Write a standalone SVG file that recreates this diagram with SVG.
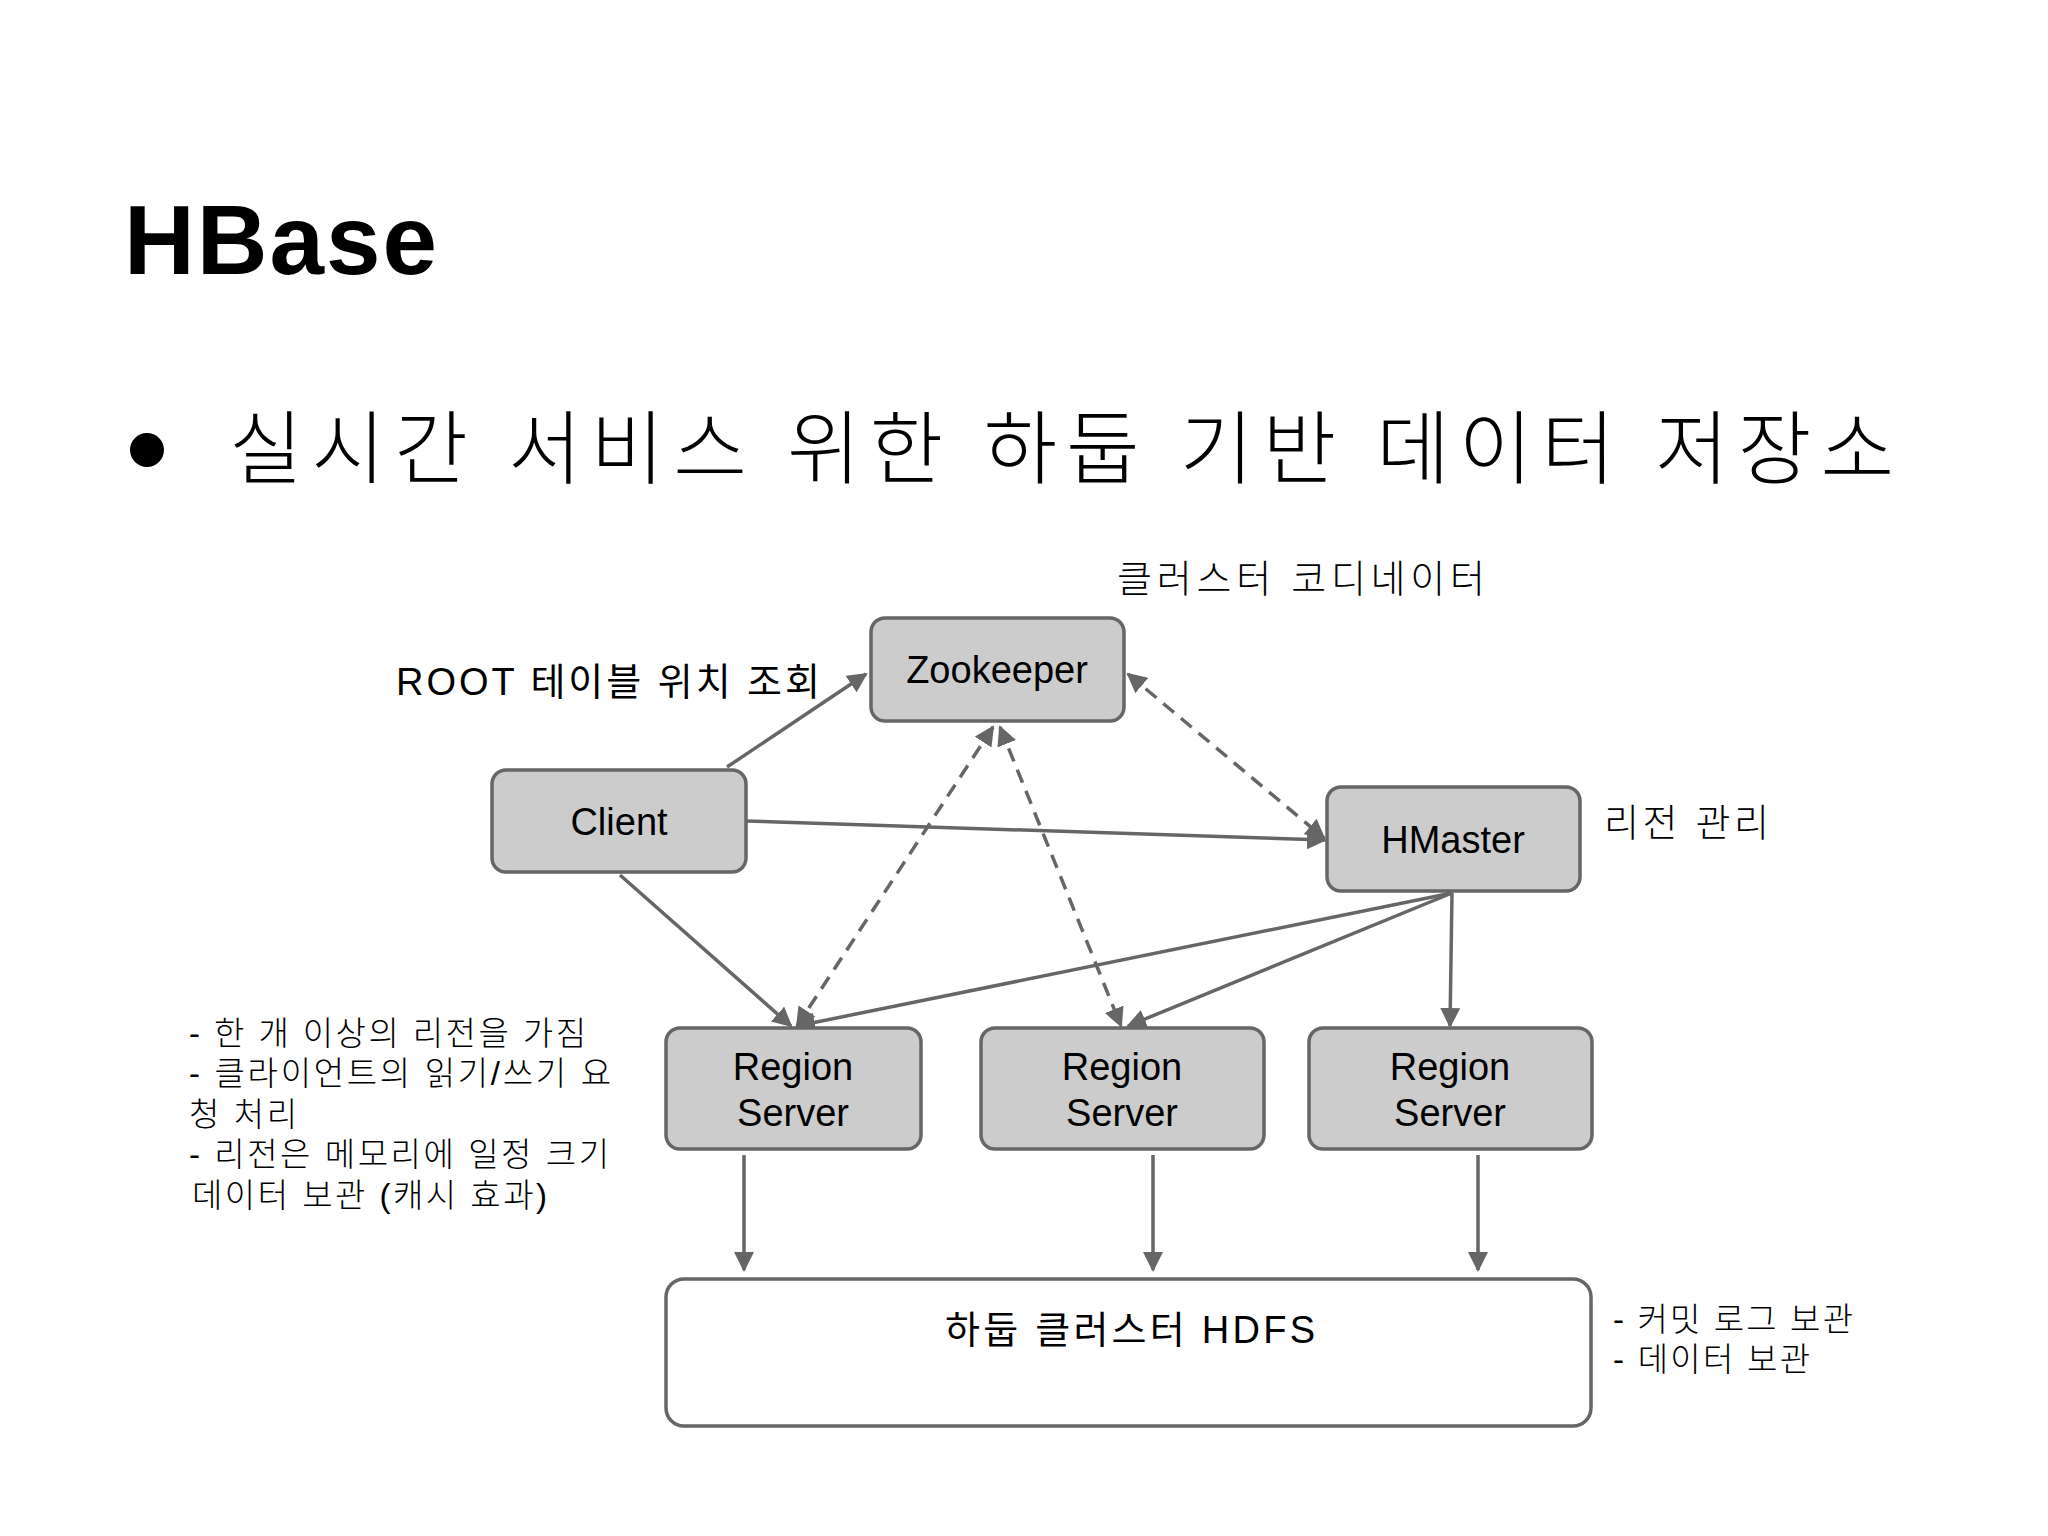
<svg xmlns="http://www.w3.org/2000/svg" width="2048" height="1536" viewBox="0 0 2048 1536">
<defs>
<marker id="a" viewBox="0 0 10 10" refX="9" refY="5" markerWidth="20" markerHeight="20" markerUnits="userSpaceOnUse" orient="auto-start-reverse"><path d="M0,0L10,5L0,10z" fill="#666"/></marker>
</defs>
<style>
.t{font-family:"Liberation Sans","Noto Sans CJK KR",Arial,sans-serif;fill:#000}
.k{font-weight:300}
.box{fill:#ccc;stroke:#666;stroke-width:3.5}
.c line{stroke:#666;stroke-width:3.5;fill:none}
.d{stroke-dasharray:14,9}
</style>
<rect width="2048" height="1536" fill="#fff"/>
<text class="t" x="124" y="274" font-size="98" font-weight="bold" textLength="313">HBase</text>
<circle cx="147" cy="450" r="17" fill="#000"/>
<text class="t k" x="229" y="477" font-size="80" textLength="1665">실시간 서비스 위한 하둡 기반 데이터 저장소</text>
<g class="c">
<line x1="727" y1="767" x2="866" y2="674" marker-end="url(#a)"/>
<line x1="746" y1="821" x2="1325" y2="840" marker-end="url(#a)"/>
<line x1="620" y1="875" x2="791" y2="1026" marker-end="url(#a)"/>
<line class="d" x1="1128" y1="674" x2="1324" y2="838" marker-start="url(#a)" marker-end="url(#a)"/>
<line class="d" x1="993" y1="727" x2="797" y2="1026" marker-start="url(#a)" marker-end="url(#a)"/>
<line class="d" x1="1000" y1="727" x2="1121" y2="1026" marker-start="url(#a)" marker-end="url(#a)"/>
<line x1="1452" y1="893" x2="797" y2="1026" marker-end="url(#a)"/>
<line x1="1452" y1="893" x2="1128" y2="1026" marker-end="url(#a)"/>
<line x1="1452" y1="893" x2="1450" y2="1026" marker-end="url(#a)"/>
<line x1="744" y1="1155" x2="744" y2="1270" marker-end="url(#a)"/>
<line x1="1153" y1="1155" x2="1153" y2="1270" marker-end="url(#a)"/>
<line x1="1478" y1="1155" x2="1478" y2="1270" marker-end="url(#a)"/>
</g>
<g id="zookeeper"><rect class="box" x="871" y="618" width="253" height="103" rx="14"/><text class="t" x="997" y="683" font-size="38" text-anchor="middle">Zookeeper</text></g>
<g id="client"><rect class="box" x="492" y="770" width="254" height="102" rx="14"/><text class="t" x="619" y="835" font-size="38" text-anchor="middle">Client</text></g>
<g id="hmaster"><rect class="box" x="1327" y="787" width="253" height="104" rx="14"/><text class="t" x="1453" y="853" font-size="38" text-anchor="middle">HMaster</text></g>
<g id="rs1"><rect class="box" x="666" y="1028" width="255" height="121" rx="14"/><text class="t" x="793" y="1080" font-size="38" text-anchor="middle">Region</text><text class="t" x="793" y="1126" font-size="38" text-anchor="middle">Server</text></g>
<g id="rs2"><rect class="box" x="981" y="1028" width="283" height="121" rx="14"/><text class="t" x="1122" y="1080" font-size="38" text-anchor="middle">Region</text><text class="t" x="1122" y="1126" font-size="38" text-anchor="middle">Server</text></g>
<g id="rs3"><rect class="box" x="1309" y="1028" width="283" height="121" rx="14"/><text class="t" x="1450" y="1080" font-size="38" text-anchor="middle">Region</text><text class="t" x="1450" y="1126" font-size="38" text-anchor="middle">Server</text></g>
<g id="hdfs"><rect x="666" y="1279" width="925" height="147" rx="18" fill="#fff" stroke="#666" stroke-width="3.5"/><text class="t" x="945" y="1343" font-size="38" textLength="370">하둡 클러스터 HDFS</text></g>
<text class="t k" x="1117" y="592" font-size="38" textLength="368">클러스터 코디네이터</text>
<text class="t" x="396" y="695" font-size="38" textLength="424">ROOT 테이블 위치 조회</text>
<text class="t k" x="1604" y="836" font-size="38" textLength="165">리전 관리</text>
<g class="t k" font-size="33">
<text x="189" y="1045" textLength="397">- 한 개 이상의 리전을 가짐</text>
<text x="189" y="1085" textLength="422">- 클라이언트의 읽기/쓰기 요</text>
<text x="189" y="1126" textLength="108">청 처리</text>
<text x="189" y="1166" textLength="420">- 리전은 메모리에 일정 크기</text>
<text x="192" y="1207" textLength="355">데이터 보관 (캐시 효과)</text>
<text x="1613" y="1331" textLength="240">- 커밋 로그 보관</text>
<text x="1613" y="1371" textLength="197">- 데이터 보관</text>
</g>
</svg>
